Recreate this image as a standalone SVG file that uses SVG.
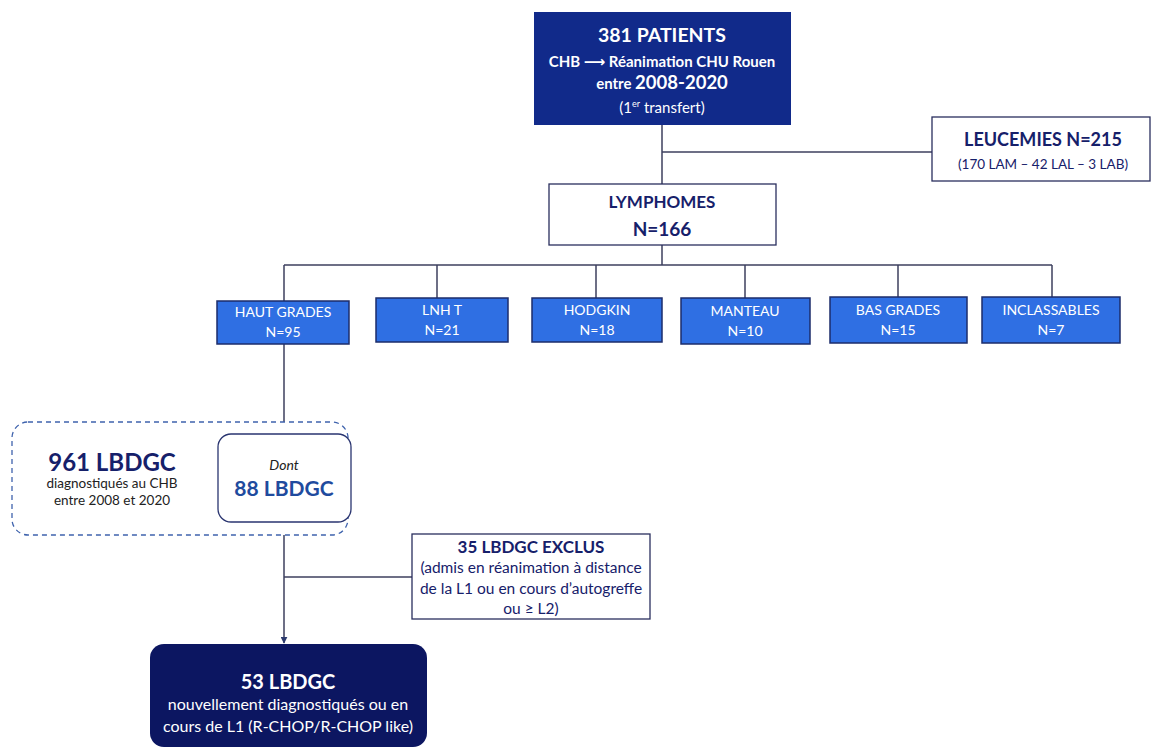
<svg xmlns="http://www.w3.org/2000/svg" width="1151" height="749" viewBox="0 0 1151 749">
<defs>
<style>
text{font-family:Lato,"Open Sans","DejaVu Sans",sans-serif;text-anchor:middle}
.conn{stroke:#3c3f5e;stroke-width:1.5;fill:none}
.sub rect{fill:#2f6fe3;stroke:#1d2d6b;stroke-width:1.5}
.sub text{fill:#fff;font-size:14px}
.wbox{fill:#fff;stroke:#2a2f5e;stroke-width:1.3}
.navy{fill:#16206a}
</style>
<marker id="arr" viewBox="0 0 10 10" refX="9" refY="5" markerWidth="7" markerHeight="7" orient="auto" markerUnits="userSpaceOnUse">
<path d="M0,0 L10,5 L0,10 z" fill="#2c3a6e"/>
</marker>
</defs>
<rect width="1151" height="749" fill="#fff"/>

<g id="connectors">
<line class="conn" x1="662" y1="125" x2="662" y2="184"/>
<line class="conn" x1="662" y1="152" x2="932" y2="152"/>
<line class="conn" x1="662" y1="245" x2="662" y2="265"/>
<line class="conn" x1="284" y1="265" x2="1052" y2="265"/>
<line class="conn" x1="284" y1="265" x2="284" y2="301"/>
<line class="conn" x1="437" y1="265" x2="437" y2="298"/>
<line class="conn" x1="596" y1="265" x2="596" y2="298"/>
<line class="conn" x1="745" y1="265" x2="745" y2="298"/>
<line class="conn" x1="898" y1="265" x2="898" y2="297"/>
<line class="conn" x1="1052" y1="265" x2="1052" y2="297"/>
<line class="conn" x1="284" y1="344" x2="284" y2="433" marker-end="url(#arr)"/>
<line class="conn" x1="284" y1="522" x2="284" y2="643" marker-end="url(#arr)"/>
<line class="conn" x1="284" y1="577" x2="412" y2="577"/>
</g>

<g id="patients">
<rect x="534" y="12" width="257" height="113" fill="#112a8a"/>
<text x="662" y="42" fill="#fff" font-size="19.5" font-weight="bold">381 PATIENTS</text>
<text x="662" y="67" fill="#fff" font-size="15" font-weight="bold">CHB ⟶ Réanimation CHU Rouen</text>
<text x="662" y="89" fill="#fff" font-size="15" font-weight="bold">entre <tspan font-size="18.5">2008-2020</tspan></text>
<text x="662" y="113" fill="#fff" font-size="15">(1<tspan font-size="9" dy="-6">er</tspan><tspan dy="6"> transfert)</tspan></text>
</g>

<g id="leucemies">
<rect class="wbox" x="932" y="117" width="218" height="64"/>
<text class="navy" x="1043" y="146" font-size="18" font-weight="bold">LEUCEMIES N=215</text>
<text class="navy" x="1043" y="169" font-size="13.5">(170 LAM – 42 LAL – 3 LAB)</text>
</g>

<g id="lymphomes">
<rect class="wbox" x="549" y="184" width="227" height="61"/>
<text class="navy" x="662" y="208" font-size="17" font-weight="bold">LYMPHOMES</text>
<text class="navy" x="662" y="236" font-size="19" font-weight="bold">N=166</text>
</g>

<g id="haut-grades" class="sub">
<rect x="217" y="301" width="132" height="43"/>
<text x="283" y="317">HAUT GRADES</text>
<text x="283" y="337">N=95</text>
</g>
<g id="lnh-t" class="sub">
<rect x="376" y="298" width="132" height="44"/>
<text x="442" y="315">LNH T</text>
<text x="442" y="335">N=21</text>
</g>
<g id="hodgkin" class="sub">
<rect x="532" y="298" width="130" height="44"/>
<text x="597" y="315">HODGKIN</text>
<text x="597" y="335">N=18</text>
</g>
<g id="manteau" class="sub">
<rect x="681" y="298" width="129" height="46"/>
<text x="745" y="316">MANTEAU</text>
<text x="745" y="336">N=10</text>
</g>
<g id="bas-grades" class="sub">
<rect x="830" y="297" width="137" height="46"/>
<text x="898" y="315">BAS GRADES</text>
<text x="898" y="335">N=15</text>
</g>
<g id="inclassables" class="sub">
<rect x="982" y="297" width="138" height="46"/>
<text x="1051" y="315">INCLASSABLES</text>
<text x="1051" y="335">N=7</text>
</g>

<g id="lbdgc-961">
<rect x="12" y="422" width="336" height="113" rx="16" fill="#fff" stroke="#3f63ad" stroke-width="1.3" stroke-dasharray="5,4"/>
<text class="navy" x="112" y="471" font-size="24" font-weight="bold">961 LBDGC</text>
<text x="112" y="488" font-size="13.5" fill="#222">diagnostiqués au CHB</text>
<text x="112" y="505" font-size="13.5" fill="#222">entre 2008 et 2020</text>
</g>

<g id="lbdgc-88">
<rect x="218" y="434" width="133" height="88" rx="13" fill="#fff" stroke="#2a3570" stroke-width="1.3"/>
<text x="284" y="470" font-size="14" font-style="italic" fill="#222">Dont</text>
<text x="284" y="496" font-size="21" font-weight="bold" fill="#1f4b9e">88 LBDGC</text>
</g>

<g id="exclus">
<rect class="wbox" x="412" y="534" width="238" height="85"/>
<text class="navy" x="531" y="553" font-size="17" font-weight="bold">35 LBDGC EXCLUS</text>
<text class="navy" x="531" y="573" font-size="15.5">(admis en réanimation à distance</text>
<text class="navy" x="531" y="594" font-size="15.5">de la L1 ou en cours d’autogreffe</text>
<text class="navy" x="531" y="614" font-size="15.5">ou ≥ L2)</text>
</g>

<g id="lbdgc-53">
<rect x="150" y="644" width="277" height="103" rx="14" fill="#0c1661"/>
<text x="288" y="689" font-size="20" font-weight="bold" fill="#fff">53 LBDGC</text>
<text x="288" y="710" font-size="16" fill="#fff">nouvellement diagnostiqués ou en</text>
<text x="288" y="732" font-size="16" fill="#fff">cours de L1 (R-CHOP/R-CHOP like)</text>
</g>
</svg>
